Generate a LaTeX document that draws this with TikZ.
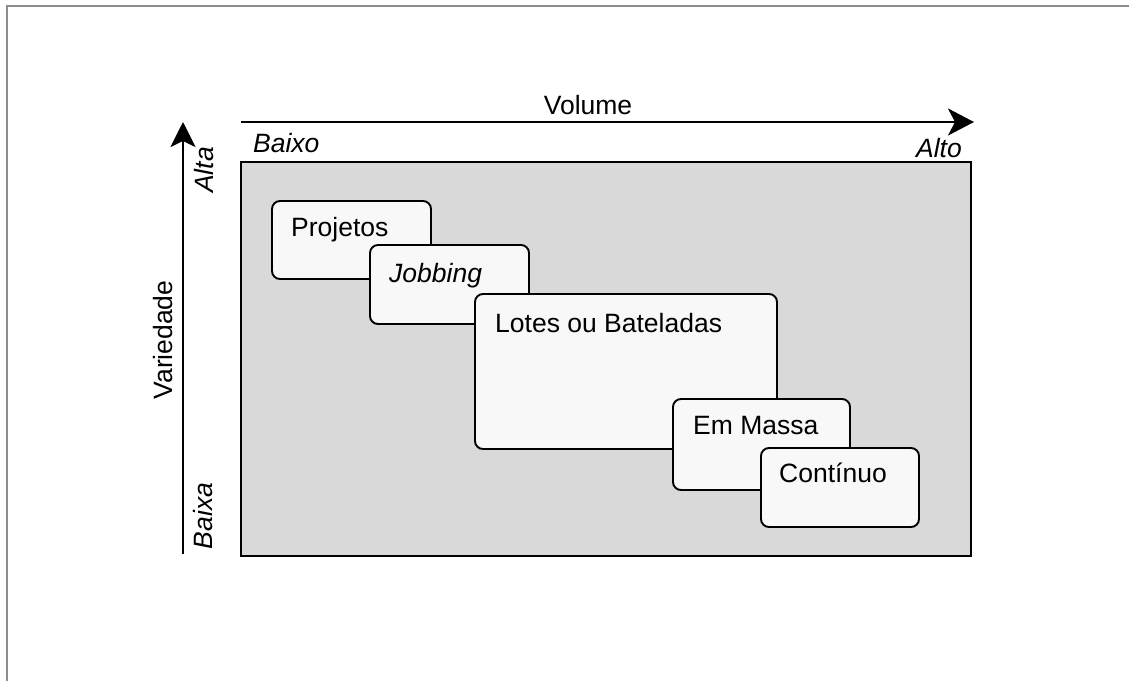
\documentclass[tikz,border=0pt]{standalone}
\usepackage{fontspec}
\setmainfont{Liberation Sans}
\usetikzlibrary{arrows.meta}
\begin{document}
\begin{tikzpicture}[x=1pt,y=-1pt,
  lbl/.style={inner sep=0pt,font=\fontsize{26.5}{30}\selectfont},
  axislbl/.style={lbl,font=\fontsize{26.5}{30}\selectfont\itshape},
  axisline/.style={line width=2.6pt,-{Stealth[length=26pt,width=27pt,inset=7pt]}},
  proc/.style={draw,line width=1.9pt,fill=boxfill,rounded corners=8pt},
  frameline/.style={draw=framegray,line width=2pt}]
\definecolor{boxfill}{HTML}{F8F8F8}
\definecolor{areafill}{HTML}{D9D9D9}
\definecolor{framegray}{HTML}{8C8C8C}
\useasboundingbox (0,0) rectangle (1129,681);
% outer frame (left and top edges)
\draw[frameline] (7,681) -- (7,6) -- (1129,6);
% shaded field
\draw[fill=areafill,line width=2pt] (241,162) rectangle (971,556);
% axes
\coordinate (vstart) at (241,122);
\coordinate (vend) at (974,122);
\draw[axisline] (vstart) -- (vend);
\coordinate (wstart) at (183,554);
\coordinate (wend) at (183,122);
\draw[axisline,-{Stealth[length=25pt,width=25pt,inset=6pt]}] (wstart) -- (wend);
% axis labels
\node[lbl,anchor=base] (volume) at (588,114) {Volume};
\node[axislbl,anchor=base west] (baixo) at (253,152) {Baixo};
\node[axislbl,anchor=base east] (alto) at (962,157) {Alto};
\node[axislbl,rotate=90,anchor=center] (alta) at (204,170) {Alta};
\node[axislbl,rotate=90,anchor=center] (baixa) at (203,516) {Baixa};
\node[lbl,rotate=90,anchor=center] (variedade) at (163,340) {Variedade};
% process types, each drawn over the previous one
\draw[proc] (272,201) rectangle (431,279);
\node[lbl,anchor=base west] (projetos) at (291,236) {Projetos};
\draw[proc] (370,245) rectangle (529,324);
\node[lbl,anchor=base west,font=\fontsize{26.5}{30}\selectfont\itshape] (jobbing) at (389,282) {Jobbing};
\draw[proc] (475,294) rectangle (777,449);
\node[lbl,anchor=base west] (lotes) at (495,332) {Lotes ou Bateladas};
\draw[proc] (673,399) rectangle (850,490);
\node[lbl,anchor=base west] (massa) at (693,434) {Em Massa};
\draw[proc] (761,448) rectangle (919,527);
\node[lbl,anchor=base west] (continuo) at (779,482) {Contínuo};
\end{tikzpicture}
\end{document}
